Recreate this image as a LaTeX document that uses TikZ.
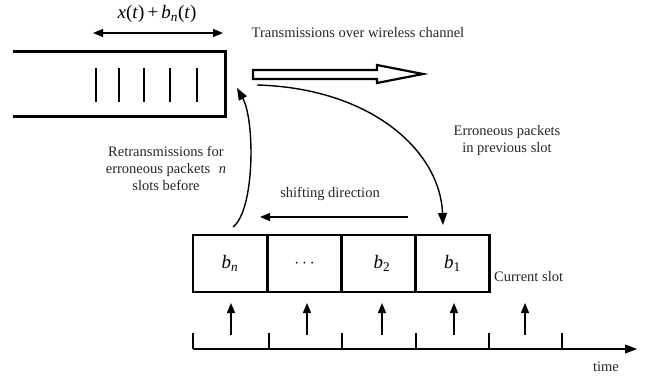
\documentclass[tikz,border=0pt]{standalone}
\usepackage{fontspec}
\setmainfont{Liberation Serif}
\usetikzlibrary{arrows.meta}
\definecolor{txtgray}{HTML}{262626}
\begin{document}
\begin{tikzpicture}[x=1pt,y=-1pt,
  lbl/.style={font=\fontsize{14.5}{17}\selectfont, text=txtgray, inner sep=0pt, align=center},
  mathlbl/.style={font=\fontsize{19}{22}\selectfont, inner sep=0pt},
  cell/.style={draw, line width=2.4pt, minimum width=74pt, minimum height=57pt, inner sep=0pt, outer sep=0pt, font=\fontsize{19}{22}\selectfont},
  thinarrow/.style={line width=1.3pt, -{Triangle[length=10pt,width=8pt]}},
  curvearrow/.style={line width=1.4pt, -{Triangle[length=12pt,width=9pt]}},
  tickline/.style={line width=1.2pt}
]
\useasboundingbox (0,0) rectangle (653,379);

% top queue
\draw[line width=3pt] (13,52) -- (225,52) -- (225,117) -- (13,117);
\foreach \x in {96,119,144,170,197}
  \draw[line width=1.2pt] (\x,68) -- (\x,102);
\coordinate (qa) at (93,33);
\coordinate (qb) at (223,33);
\draw[line width=1.3pt, {Triangle[length=10pt,width=8pt]}-{Triangle[length=10pt,width=8pt]}] (qa) -- (qb);
\node[mathlbl] (xlbl) at (157,14) {\textit{x}(\textit{t})\,+\,\textit{b}\textsubscript{\textit{n}}(\textit{t})};

\node[lbl] (trans) at (358,33) {Transmissions over wireless channel};

% hollow arrow
\draw[line width=2.2pt, fill=white, line join=miter]
  (253,70) -- (377,70) -- (377,65) -- (423,74) -- (377,83) -- (377,79) -- (253,79) -- cycle;

% cells
\node[cell] (cn) at (230,263.5) {\textit{b}\textsubscript{\textit{n}}};
\node[cell] (cd) at (304.5,263.5) {$\cdots$};
\node[cell] (c2) at (379,263.5) {\hspace{6pt}\textit{b}\textsubscript{2}};
\node[cell] (c1) at (452.5,263.5) {\textit{b}\textsubscript{1}};

\node[lbl, anchor=west] (cur) at (494,277) {Current slot};

% curves
\coordinate (rs) at (257,85);
\coordinate (rt) at (443,225);
\draw[curvearrow] (rs) .. controls (370,88) and (440,150) .. (rt);
\coordinate (ls) at (233,227);
\coordinate (lt) at (237,88);
\draw[curvearrow] (ls) .. controls (255,210) and (255,120) .. (lt);

\node[lbl] (err) at (507,141) {Erroneous packets\\in previous slot};
\node[lbl] (retx) at (166,168) {Retransmissions for\\erroneous packets\hspace{0.6em}\textit{n}\\slots before};

% shifting
\coordinate (ss) at (408,217);
\coordinate (st) at (260,217);
\draw[thinarrow] (ss) -- (st);
\node[lbl] (shift) at (330,194) {shifting direction};

% up arrows
\foreach \x/\n in {231/a,307/b,382/c,454/d,525/e} {
  \coordinate (u\n0) at (\x,335);
  \coordinate (u\n1) at (\x,303);
  \draw[thinarrow] (u\n0) -- (u\n1);
}

% timeline
\coordinate (t0) at (193,349);
\coordinate (t1) at (637,349);
\draw[tickline, -{Triangle[length=12pt,width=9pt]}] (t0) -- (t1);
\foreach \x in {193,269,342,416,489,562}
  \draw[tickline] (\x,333) -- (\x,349);
\node[lbl] (time) at (606,367) {time};
\end{tikzpicture}
\end{document}
